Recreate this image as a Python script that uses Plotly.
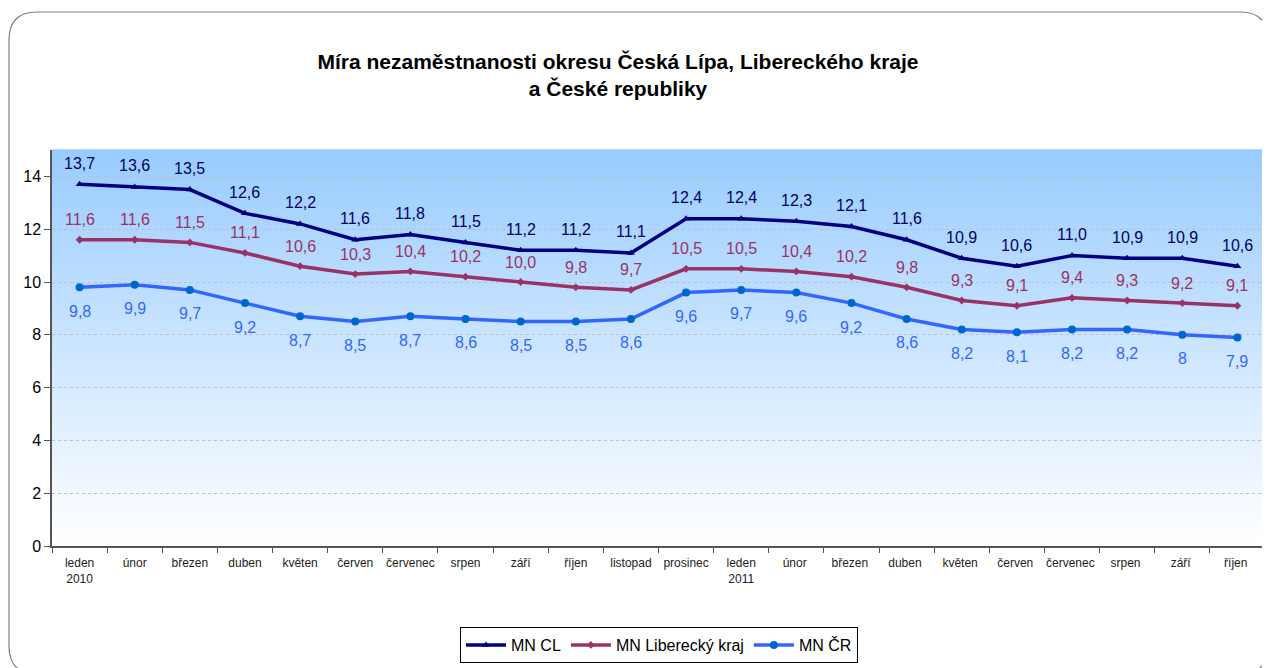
import plotly.graph_objects as go

categories = ["leden<br>2010", "únor", "březen", "duben", "květen", "červen", "červenec",
              "srpen", "září", "říjen", "listopad", "prosinec", "leden<br>2011", "únor ",
              "březen ", "duben ", "květen ", "červen ", "červenec ", "srpen ", "září ", "říjen "]
mn_cl = [13.7, 13.6, 13.5, 12.6, 12.2, 11.6, 11.8, 11.5, 11.2, 11.2, 11.1, 12.4, 12.4, 12.3,
         12.1, 11.6, 10.9, 10.6, 11.0, 10.9, 10.9, 10.6]
mn_lib = [11.6, 11.6, 11.5, 11.1, 10.6, 10.3, 10.4, 10.2, 10.0, 9.8, 9.7, 10.5, 10.5, 10.4,
          10.2, 9.8, 9.3, 9.1, 9.4, 9.3, 9.2, 9.1]
mn_cr = [9.8, 9.9, 9.7, 9.2, 8.7, 8.5, 8.7, 8.6, 8.5, 8.5, 8.6, 9.6, 9.7, 9.6, 9.2, 8.6,
         8.2, 8.1, 8.2, 8.2, 8.0, 7.9]
y_ticks = [0, 2, 4, 6, 8, 10, 12, 14]

# page body has an 8px default margin; compensate
OFF = 8
W, H = 1270 - OFF, 668 - OFF


def P(v):
    return v - OFF


ML, MT = P(52), P(150)
MR = W - P(1265)
MB = H - P(546)
PW, PH = W - ML - MR, H - MT - MB


def px2paper(px, py):
    return (P(px) - ML) / PW, (H - MB - P(py)) / PH


fig = go.Figure()

series = [
    ("MN CL", mn_cl, "#000080", "#000066", "triangle-up", 7, lambda v: f"{v:.1f}".replace(".", ","), 21),
    ("MN Liberecký kraj", mn_lib, "#993366", "#993366", "diamond", 6, lambda v: f"{v:.1f}".replace(".", ","), 20),
    ("MN ČR", mn_cr, "#3366FF", "#3366FF", "circle", 8, lambda v: f"{v:g}".replace(".", ","), -24),
]

annotations = []
for name, vals, lc, tc, sym, ms, fmt, shift in series:
    fig.add_trace(go.Scatter(
        x=categories, y=vals, name=name, mode="lines+markers",
        line=dict(color=lc, width=3.5),
        marker=dict(symbol=sym, size=ms, color=lc if name != "MN ČR" else "#0066CC"),
        hoverinfo="skip",
    ))
    for c, v in zip(categories, vals):
        annotations.append(dict(
            x=c, y=v, xref="x", yref="y", text=fmt(v), showarrow=False,
            yshift=shift, font=dict(family="Liberation Sans, Arial", size=16, color=tc),
        ))

# gradient background stripes
shapes = []
N = 80
top = (153, 204, 255)
bot = (255, 255, 255)
for i in range(N):
    t = i / (N - 1)
    r = round(bot[0] + (top[0] - bot[0]) * t)
    g = round(bot[1] + (top[1] - bot[1]) * t)
    b = round(bot[2] + (top[2] - bot[2]) * t)
    shapes.append(dict(type="rect", xref="x domain", yref="y domain",
                       x0=0, x1=1, y0=i / N, y1=(i + 1) / N + 0.002,
                       fillcolor=f"rgb({r},{g},{b})", line=dict(width=0), layer="below"))

# rounded outer border
x0, y0 = px2paper(9, 12)
x1, y1 = px2paper(1268, 674)
rx = 28 / PW
ry = 28 / PH
path = (f"M {x0 + rx},{y0} L {x1 - rx},{y0} Q {x1},{y0} {x1},{y0 - ry} "
        f"L {x1},{y1 + ry} Q {x1},{y1} {x1 - rx},{y1} L {x0 + rx},{y1} "
        f"Q {x0},{y1} {x0},{y1 + ry} L {x0},{y0 - ry} Q {x0},{y0} {x0 + rx},{y0} Z")
shapes.append(dict(type="path", xref="paper", yref="paper", path=path,
                   line=dict(color="#808080", width=1.2), layer="above"))

fig.update_layout(
    width=W, height=H,
    margin=dict(l=ML, r=MR, t=MT, b=MB, autoexpand=False),
    paper_bgcolor="white", plot_bgcolor="white",
    title=dict(
        text="<b>Míra nezaměstnanosti okresu Česká Lípa, Libereckého kraje<br>a České republiky</b>",
        x=P(618) / W, xanchor="center", y=1 - P(69) / H, yanchor="middle",
        font=dict(family="Liberation Sans Narrow, Arial Narrow, Liberation Sans", size=21, color="black"),
    ),
    xaxis=dict(
        type="category", categoryorder="array", categoryarray=categories,
        showline=True, linecolor="#555555", linewidth=1.5,
        ticks="outside", tickson="boundaries", ticklen=5, tickcolor="#555555",
        showgrid=False, range=[-0.5, len(categories) - 0.5], tickangle=0, automargin=False,
        ticklabelstandoff=5,
        tickfont=dict(family="Liberation Sans Narrow, Arial Narrow, Liberation Sans", size=12, color="#222222"),
    ),
    yaxis=dict(
        range=[0, 15], tickvals=y_ticks, showline=True, linecolor="#555555", linewidth=1.5,
        ticks="outside", ticklen=6, tickcolor="#555555", automargin=False,
        showgrid=True, gridcolor="#C0C0C0", gridwidth=1, griddash="dot",
        zeroline=False,
        tickfont=dict(family="Liberation Sans, Arial", size=16, color="black"),
    ),
    legend=dict(
        orientation="h", xref="container", yref="container",
        x=P(659) / W, y=1 - P(645) / H, xanchor="center", yanchor="middle",
        bordercolor="black", borderwidth=1, bgcolor="white",
        font=dict(family="Liberation Sans, Arial", size=16, color="black"),
        itemwidth=40, tracegroupgap=0,
    ),
    annotations=annotations,
    shapes=shapes,
    showlegend=True,
)

fig.write_html("out.html")
